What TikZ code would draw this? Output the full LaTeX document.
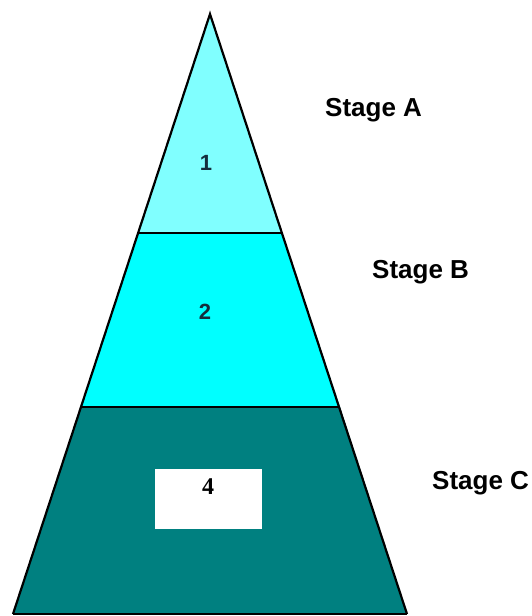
\documentclass[tikz,border=0pt]{standalone}
\usepackage{fontspec}
\setmainfont{Liberation Sans}
\newfontfamily\numserif{Liberation Serif}
\definecolor{tierA}{RGB}{128,255,255}
\definecolor{tierB}{RGB}{0,255,255}
\definecolor{tierC}{RGB}{0,128,128}
\definecolor{numcol}{RGB}{20,45,60}
\tikzset{
  stagelabel/.style={font=\fontsize{26}{30}\selectfont\bfseries, anchor=west, inner sep=0pt},
  numlabel/.style={font=\fontsize{22}{26}\selectfont\bfseries, text=numcol, inner sep=0pt},
  edge/.style={line width=2.2pt, line join=miter},
  divider/.style={line width=2pt}
}
\begin{document}
\begin{tikzpicture}[x=1pt,y=-1pt]
\useasboundingbox (0,0) rectangle (531,616);
\coordinate (apex) at (210,14);
\coordinate (bl) at (13,614);
\coordinate (br) at (407,614);
\coordinate (l1) at (138,233);
\coordinate (r1) at (282,233);
\coordinate (l2) at (81,407);
\coordinate (r2) at (340,407);
\fill[tierA] (apex) -- (r1) -- (l1) -- cycle;
\fill[tierB] (l1) -- (r1) -- (r2) -- (l2) -- cycle;
\fill[tierC] (l2) -- (r2) -- (br) -- (bl) -- cycle;
\draw[divider] (l1) -- (r1);
\draw[divider] (l2) -- (r2);
\draw[edge] (bl) -- (apex) -- (br);
\draw[line width=1.5pt] (bl) -- (br);
\node[fill=white, minimum width=107pt, minimum height=60pt, inner sep=0pt] (box4) at (208.5,499) {};
\node[numlabel] (n1) at (206,163) {1};
\node[numlabel] (n2) at (205,312) {2};
\node[numlabel, font=\numserif\fontsize{24}{28}\selectfont\bfseries, text=black] (n4) at (208,487) {4};
\node[stagelabel] (sa) at (325,110) {Stage A};
\node[stagelabel] (sb) at (372,272) {Stage B};
\node[stagelabel] (sc) at (432,483) {Stage C};
\end{tikzpicture}
\end{document}
